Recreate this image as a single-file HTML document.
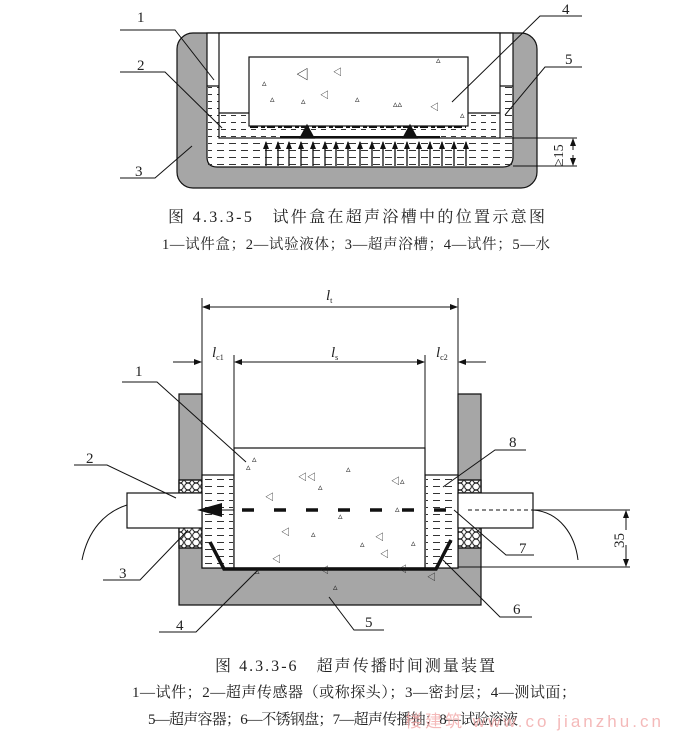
<!DOCTYPE html>
<html><head><meta charset="utf-8"><style>
body{margin:0;background:#fff;width:678px;height:741px;overflow:hidden}
svg{display:block}
text{font-family:"Liberation Serif","Noto Serif CJK SC",serif;fill:#222}
.cn{font-family:"Liberation Serif","Noto Serif CJK SC",serif}
</style></head><body>
<svg width="678" height="741" viewBox="0 0 678 741" xmlns="http://www.w3.org/2000/svg">
<defs>
<pattern id="w" width="10" height="7" patternUnits="userSpaceOnUse"><line x1="1" y1="3.5" x2="6" y2="3.5" stroke="#333" stroke-width="1"/></pattern>
<pattern id="w2" width="12" height="7" patternUnits="userSpaceOnUse"><line x1="1" y1="3.5" x2="8" y2="3.5" stroke="#333" stroke-width="1"/></pattern>
<pattern id="hx" width="8" height="7" patternUnits="userSpaceOnUse"><circle cx="4" cy="3.5" r="3.4" fill="none" stroke="#222" stroke-width="1"/></pattern>
<marker id="ar" markerWidth="8" markerHeight="6" refX="7" refY="3" orient="auto" markerUnits="userSpaceOnUse"><path d="M0,0 L8,3 L0,6 z" fill="#111"/></marker>
</defs>
<g stroke="#111" stroke-width="1.2">
<!-- FIG 1 -->
<rect x="177" y="33" width="360" height="155" rx="16" fill="#a6a6a6"/>
<path d="M207,33 V157 Q207,167 217,167 H503 Q513,167 513,157 V33 Z" fill="#fff"/>
<rect x="208" y="86" width="304" height="80" fill="url(#w2)" stroke="none"/>
<path d="M207,86 H219 M500,86 H513" />
<rect x="219" y="33" width="281" height="105" fill="#fff"/>
<rect x="220" y="113" width="279" height="24" fill="url(#w)" stroke="none"/>
<line x1="219" y1="113" x2="500" y2="113"/>
<rect x="249" y="57" width="219" height="69" fill="#fff"/>
<path d="M250,127 H466" stroke-width="2" stroke-dasharray="8 3 4 2"/>
<path d="M300,138 L307,125 L314,138 Z M403,138 L410,125 L417,138 Z" fill="#111"/>
<path d="M280,137 H440" stroke-width="2"/>
</g>
<g stroke="#111" stroke-width="1.3" marker-end="url(#ar)">
<line x1="266" y1="166" x2="266" y2="142"/><line x1="278" y1="166" x2="278" y2="142"/><line x1="289" y1="166" x2="289" y2="142"/><line x1="301" y1="166" x2="301" y2="142"/><line x1="313" y1="166" x2="313" y2="142"/><line x1="325" y1="166" x2="325" y2="142"/><line x1="336" y1="166" x2="336" y2="142"/><line x1="348" y1="166" x2="348" y2="142"/><line x1="360" y1="166" x2="360" y2="142"/><line x1="372" y1="166" x2="372" y2="142"/><line x1="383" y1="166" x2="383" y2="142"/><line x1="395" y1="166" x2="395" y2="142"/><line x1="407" y1="166" x2="407" y2="142"/><line x1="419" y1="166" x2="419" y2="142"/><line x1="430" y1="166" x2="430" y2="142"/><line x1="442" y1="166" x2="442" y2="142"/><line x1="454" y1="166" x2="454" y2="142"/><line x1="466" y1="166" x2="466" y2="142"/>
</g>
<g stroke="#111" stroke-width="1" fill="none">
<path d="M500,138 H577 M513,166 H577"/>
<line x1="573" y1="150" x2="573" y2="139" marker-end="url(#ar)"/>
<line x1="573" y1="155" x2="573" y2="165" marker-end="url(#ar)"/>
<path d="M120,30 H175 L214,80"/><path d="M120,72 H165 L222,128"/><path d="M120,178 H155 L192,146"/>
<path d="M582,16 H540 L452,102"/><path d="M582,67 H545 L505,115"/>
</g>
<g font-size="13" fill="#333" style="font-family:'DejaVu Sans',sans-serif">
<text x="296" y="79">◁</text><text x="262" y="86" font-size="9">▵</text><text x="320" y="98" font-size="9">◁</text><text x="355" y="102" font-size="9">▵</text><text x="393" y="107" font-size="9">▵▵</text><text x="430" y="110" font-size="9">◁</text><text x="460" y="118" font-size="9">▵</text><text x="270" y="102" font-size="9">▵</text><text x="301" y="104" font-size="9">▵</text><text x="333" y="75" font-size="9">◁</text><text x="436" y="63" font-size="9">▵</text>
</g>
<g font-size="15">
<text x="137" y="22">1</text><text x="137" y="70">2</text><text x="135" y="176">3</text><text x="562" y="14">4</text><text x="565" y="64">5</text>
<text transform="translate(563,166) rotate(-90)" font-size="14">≥15</text>
</g>
<text x="168" y="222" font-size="16" textLength="377" lengthAdjust="spacing" class="cn">图 4.3.3-5　试件盒在超声浴槽中的位置示意图</text>
<text x="162" y="249" font-size="14.5" textLength="388" lengthAdjust="spacing" class="cn">1—试件盒；2—试验液体；3—超声浴槽；4—试件；5—水</text>

<!-- FIG 2 -->
<g stroke="#111" stroke-width="1.2">
<path d="M179,394 H202 V568 H458 V394 H481 V605 H179 Z" fill="#a6a6a6"/>
<rect x="179" y="480" width="23" height="13" fill="#fff"/><rect x="179" y="480" width="23" height="13" fill="url(#hx)"/>
<rect x="179" y="527" width="23" height="21" fill="#fff"/><rect x="179" y="527" width="23" height="21" fill="url(#hx)"/>
<rect x="458" y="480" width="23" height="13" fill="#fff"/><rect x="458" y="480" width="23" height="13" fill="url(#hx)"/>
<rect x="458" y="527" width="23" height="21" fill="#fff"/><rect x="458" y="527" width="23" height="21" fill="url(#hx)"/>
<rect x="202" y="475" width="32" height="93" fill="#fff"/><rect x="203" y="476" width="30" height="91" fill="url(#w2)" stroke="none"/>
<rect x="425" y="475" width="33" height="93" fill="#fff"/><rect x="426" y="476" width="31" height="91" fill="url(#w2)" stroke="none"/>
<rect x="234" y="448" width="191" height="120" fill="#fff"/>
<rect x="127" y="493" width="75" height="35" fill="#fff"/>
<rect x="458" y="493" width="75" height="35" fill="#fff"/>
</g>
<g stroke="#111" fill="none">
<path d="M127,505 C105,512 88,530 82,560" stroke-width="1"/>
<path d="M533,510 C560,512 575,535 578,560" stroke-width="1"/>
<path d="M210,542 L224,569 H436 L451,540" stroke-width="3.5"/>
<line x1="242" y1="510" x2="466" y2="510" stroke-width="3.5" stroke-dasharray="12 20"/>
<line x1="468" y1="510" x2="533" y2="510" stroke-width="1" stroke-dasharray="4 3"/>
<line x1="202" y1="510" x2="234" y2="510" stroke-width="1"/>
</g>
<path d="M197,510 L222,503 L222,517 Z" fill="#111"/>
<g stroke="#111" stroke-width="1" fill="none">
<line x1="202" y1="298" x2="202" y2="394"/><line x1="458" y1="298" x2="458" y2="394"/>
<line x1="234" y1="355" x2="234" y2="448"/><line x1="425" y1="355" x2="425" y2="448"/>
<line x1="330" y1="307" x2="203" y2="307" marker-end="url(#ar)"/><line x1="330" y1="307" x2="457" y2="307" marker-end="url(#ar)"/>
<line x1="330" y1="362" x2="235" y2="362" marker-end="url(#ar)"/><line x1="330" y1="362" x2="424" y2="362" marker-end="url(#ar)"/>
<line x1="173" y1="362" x2="201" y2="362" marker-end="url(#ar)"/><line x1="486" y1="362" x2="459" y2="362" marker-end="url(#ar)"/>
<line x1="534" y1="510" x2="630" y2="510"/><line x1="458" y1="567" x2="630" y2="567"/>
<line x1="626" y1="530" x2="626" y2="511" marker-end="url(#ar)"/><line x1="626" y1="545" x2="626" y2="566" marker-end="url(#ar)"/>
<path d="M122,382 H157 L246,462"/><path d="M74,465 H107 L176,498"/><path d="M103,580 H140 L188,530"/>
<path d="M159,632 H196 L258,570"/><path d="M384,630 H354 L329,597"/><path d="M532,617 H500 L443,560"/>
<path d="M534,555 H506 L454,510"/><path d="M526,450 H495 L443,487"/>
</g>
<g font-size="9" fill="#333" style="font-family:'DejaVu Sans',sans-serif">
<text x="246" y="470">▵</text><text x="252" y="462">▵</text><text x="298" y="480">◁◁</text><text x="318" y="490">▵</text><text x="346" y="472">▵</text><text x="391" y="484">◁▵</text><text x="338" y="519">▵</text><text x="265" y="500">◁</text><text x="395" y="512">▵</text><text x="281" y="535">◁</text><text x="311" y="537">▵</text><text x="360" y="547">▵</text><text x="375" y="540">◁</text><text x="411" y="546">▵</text><text x="255" y="574">▵</text><text x="320" y="573">◁</text><text x="333" y="590">▵</text><text x="272" y="562">◁</text><text x="398" y="572">◁</text><text x="427" y="580">◁</text><text x="380" y="557">◁</text>
</g>
<g font-size="15">
<text x="326" y="300" font-style="italic">l<tspan font-size="8" dy="3" font-style="normal">t</tspan></text>
<text x="212" y="357" font-style="italic">l<tspan font-size="8" dy="3" font-style="normal">c1</tspan></text>
<text x="331" y="357" font-style="italic">l<tspan font-size="8" dy="3" font-style="normal">s</tspan></text>
<text x="436" y="357" font-style="italic">l<tspan font-size="8" dy="3" font-style="normal">c2</tspan></text>
<text x="135" y="376">1</text><text x="86" y="463">2</text><text x="119" y="578">3</text><text x="176" y="630">4</text><text x="365" y="627">5</text><text x="513" y="614">6</text><text x="519" y="553">7</text><text x="509" y="447">8</text>
<text transform="translate(624,548) rotate(-90)">35</text>
</g>
<text x="215" y="671" font-size="16" textLength="280" lengthAdjust="spacing" class="cn">图 4.3.3-6　超声传播时间测量装置</text>
<text x="132" y="697" font-size="15" textLength="444" lengthAdjust="spacing" class="cn">1—试件；2—超声传感器（或称探头）；3—密封层；4—测试面；</text>
<text x="148" y="724" font-size="15" textLength="370" lengthAdjust="spacing" class="cn">5—超声容器；6—不锈钢盘；7—超声传播轴；8—试验溶液</text>
<text x="405" y="727" font-size="17" textLength="256" lengthAdjust="spacing" style="fill:#f2a8a8;font-family:'Liberation Sans','Noto Sans CJK SC',sans-serif;opacity:0.8">楼建筑 www.co   jianzhu.cn</text>
</svg>
</body></html>
